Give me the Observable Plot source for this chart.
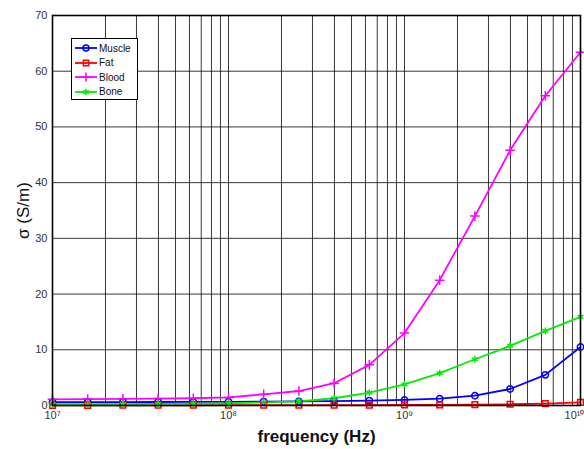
<!DOCTYPE html>
<html>
<head>
<meta charset="utf-8">
<script src="https://cdn.jsdelivr.net/npm/d3@7"></script>
<script src="https://cdn.jsdelivr.net/npm/@observablehq/plot@0.6"></script>
<style>
  html, body { margin: 0; padding: 0; background: #fff; }
  #wrap { position: relative; width: 584px; height: 449px; font-family: "Liberation Sans", Arial, sans-serif; }
  #legend { position: absolute; left: 71px; top: 38px; width: 67px; height: 62px; border: 1.5px solid #000; background: #fff; box-sizing: border-box; padding-top: 2px; }
  .li { display: flex; align-items: center; height: 14.5px; font-size: 10px; color: #111; }
  .li svg { margin-left: 3px; margin-right: 2px; }
</style>
</head>
<body>
<div id="wrap"><div id="legend"></div></div>
<script>
// frequencies (Hz), 5 points per decade
const frequency = [1e7, 1.585e7, 2.512e7, 3.981e7, 6.310e7,
                   1e8, 1.585e8, 2.512e8, 3.981e8, 6.310e8,
                   1e9, 1.585e9, 2.512e9, 3.981e9, 6.310e9, 1e10];
const muscle = [0.58, 0.60, 0.62, 0.63, 0.64, 0.66, 0.70, 0.74, 0.80, 0.88, 1.00, 1.22, 1.76, 2.96, 5.50, 10.5];
const fat    = [0.03, 0.03, 0.04, 0.04, 0.04, 0.05, 0.05, 0.05, 0.06, 0.07, 0.09, 0.11, 0.15, 0.22, 0.35, 0.55];
const blood  = [1.10, 1.15, 1.20, 1.25, 1.30, 1.45, 2.00, 2.60, 4.00, 7.30, 13.0, 22.5, 34.0, 45.8, 55.6, 63.4];
const bone   = [0.20, 0.22, 0.25, 0.28, 0.32, 0.40, 0.55, 0.75, 1.30, 2.30, 3.80, 5.80, 8.30, 10.7, 13.4, 15.9];

const seriesNames = ["Muscle", "Fat", "Blood", "Bone"];
const seriesColors = ["#0000ff", "#ff0000", "#ff00ff", "#00ee00"];
const seriesSymbols = ["circle", "square", "plus", "asterisk"];
const seriesValues = [muscle, fat, blood, bone];

const xMajorTicks = [1e7, 1e8, 1e9, 1e10];
const xTickLabels = ["10\u2077", "10\u2078", "10\u2079", "10\u00B9\u2070"];
const yTicks = [0, 10, 20, 30, 40, 50, 60, 70];

const xGrid = [];
for (const d of [1e7, 1e8, 1e9]) for (let k = 1; k <= 9; k++) xGrid.push(d * k);
xGrid.push(1e10);

const rows = [];
seriesNames.forEach((name, i) => frequency.forEach((f, j) => rows.push({series: name, f, v: seriesValues[i][j]})));

const xLabelOf = d => {
  const i = xMajorTicks.findIndex(t => Math.abs(Math.log10(t) - Math.log10(d)) < 1e-6);
  return i >= 0 ? xTickLabels[i] : "";
};

const chart = Plot.plot({
  width: 584,
  height: 449,
  marginLeft: 52,
  marginRight: 4,
  marginTop: 15,
  marginBottom: 44,
  style: {fontFamily: "'Liberation Sans', Arial, sans-serif", fontSize: "11px", color: "#333", background: "#fff"},
  x: {type: "log", domain: [1e7, 1e10]},
  y: {domain: [0, 70]},
  color: {domain: seriesNames, range: seriesColors},
  symbol: {domain: seriesNames, range: seriesSymbols},
  marks: [
    Plot.ruleX(xGrid, {x: d => d, stroke: "#000", strokeOpacity: 0.78, strokeWidth: 1}),
    Plot.ruleY(yTicks.slice(1, -1), {y: d => d, stroke: "#000", strokeOpacity: 0.78, strokeWidth: 1}),
    Plot.axisX({ticks: xMajorTicks, tickSize: 0, tickPadding: 6, tickFormat: xLabelOf, label: "frequency (Hz)", labelAnchor: "center", labelArrow: "none", labelOffset: 36}),
    Plot.axisY({ticks: yTicks, tickSize: 0, tickPadding: 5, label: "σ (S/m)", labelAnchor: "center", labelArrow: "none", labelOffset: 36}),
    Plot.line(rows, {x: "f", y: "v", z: "series", stroke: "series", strokeWidth: 1.8}),
    Plot.dot(rows, {x: "f", y: "v", symbol: "series", stroke: "series", r: 3.2, strokeWidth: 1.5}),
    Plot.frame({stroke: "#000", strokeWidth: 1.6})
  ]
});
document.getElementById("wrap").prepend(chart);

// axis label styling
chart.querySelectorAll('[aria-label="x-axis label"] text').forEach(t => { t.style.fontSize = "17px"; t.style.fontWeight = "bold"; t.style.fill = "#111"; });
chart.querySelectorAll('[aria-label="y-axis label"] text').forEach(t => { t.style.fontSize = "17px"; t.style.fill = "#111"; });
// keep the last x tick label inside the picture
const xTickTexts = chart.querySelectorAll('[aria-label="x-axis tick label"] text');
if (xTickTexts.length) {
  const last = xTickTexts[xTickTexts.length - 1];
  last.setAttribute("text-anchor", "end");
  last.setAttribute("dx", "4");
}

// legend
const legend = document.getElementById("legend");
seriesNames.forEach((name, i) => {
  const row = document.createElement("div");
  row.className = "li";
  const s = d3.create("svg").attr("width", 22).attr("height", 10);
  s.append("line").attr("x1", 0).attr("x2", 22).attr("y1", 5).attr("y2", 5).attr("stroke", seriesColors[i]).attr("stroke-width", 1.8);
  const sym = {circle: d3.symbolCircle, square: d3.symbolSquare, plus: d3.symbolPlus, asterisk: d3.symbolAsterisk}[seriesSymbols[i]];
  s.append("path").attr("transform", "translate(11,5)").attr("d", d3.symbol(sym, 28)()).attr("fill", "none").attr("stroke", seriesColors[i]).attr("stroke-width", 1.5);
  row.appendChild(s.node());
  row.appendChild(document.createTextNode(name));
  legend.appendChild(row);
});
</script>
</body>
</html>
